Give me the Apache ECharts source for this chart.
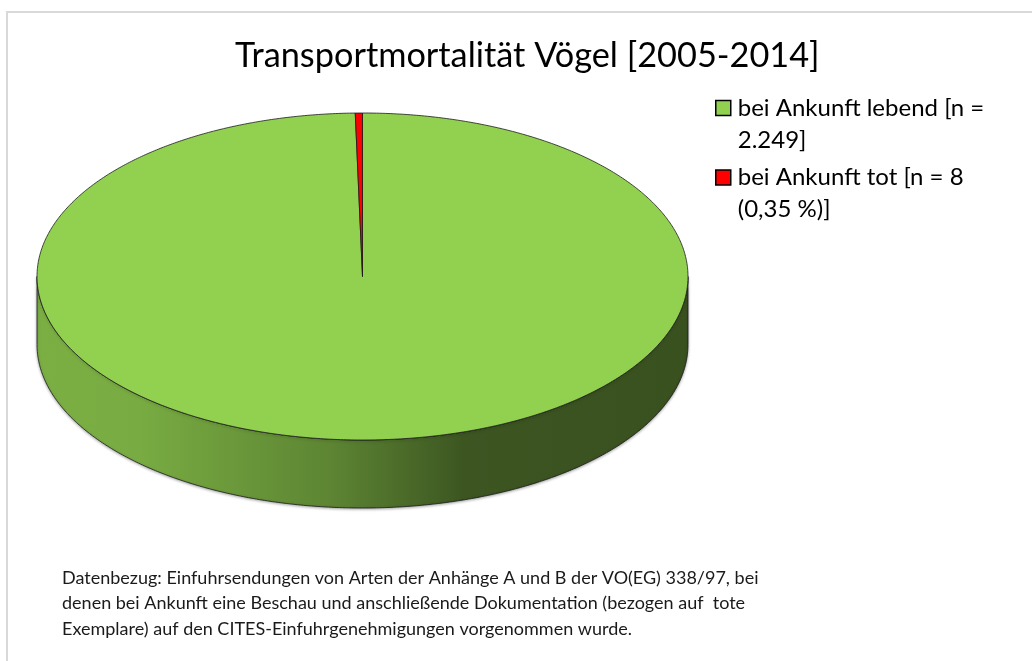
<!DOCTYPE html>
<html>
<head>
<meta charset="utf-8">
<script src="https://cdn.jsdelivr.net/npm/echarts@6/dist/echarts.min.js"></script>
<style>
html, body { margin: 0; padding: 0; background: #fff; }
/* grauer Rahmen oben/links wie im Original */
#frame { position: absolute; left: 6px; top: 11px; right: -4px; bottom: -4px; border-top: 2px solid #d9d9d9; border-left: 2px solid #d9d9d9; }
#chart { position: absolute; left: 0; top: 0; width: 1032px; height: 661px; }
</style>
</head>
<body>
<div id="frame"></div>
<div id="chart"></div>
<script>
// Daten
const categories = ['bei Ankunft lebend [n = 2.249]', 'bei Ankunft tot [n = 8 (0,35 %)]']
const legendLines = [['bei Ankunft lebend [n =', '2.249]'], ['bei Ankunft tot [n = 8', '(0,35 %)]']]
const values = [2249, 8]
const sliceColors = ['#92d050', '#ff0000']
const titleText = 'Transportmortalität Vögel [2005-2014]'
const noteLines = [
  'Datenbezug: Einfuhrsendungen von Arten der Anhänge A und B der VO(EG) 338/97, bei',
  'denen bei Ankunft eine Beschau und anschließende Dokumentation (bezogen auf  tote',
  'Exemplare) auf den CITES-Einfuhrgenehmigungen vorgenommen wurde.'
]

// Geometrie der 3D-Torte (px)
const pie = { cx: 362.5, cy: 276.5, rx: 325.5, ry: 163.5, depth: 68 }
const FONT = 'Lato, sans-serif'
const total = values.reduce((a, b) => a + b, 0)

// Winkel t im Uhrzeigersinn ab 12 Uhr
function pointAt (t, dy) {
  return [pie.cx + pie.rx * Math.sin(t), pie.cy - pie.ry * Math.cos(t) + dy]
}
function arcPoints (a0, a1, dy) {
  const n = Math.max(2, Math.ceil((a1 - a0) / (Math.PI / 360)))
  const pts = []
  for (let i = 0; i <= n; i++) {
    pts.push(pointAt(a0 + (a1 - a0) * i / n, dy))
  }
  return pts
}
function shade (hex, k) {
  const n = parseInt(hex.slice(1), 16)
  const r = Math.round(((n >> 16) & 255) * k)
  const g = Math.round(((n >> 8) & 255) * k)
  const b = Math.round((n & 255) * k)
  return 'rgb(' + r + ',' + g + ',' + b + ')'
}

function renderSlice (idx) {
  return function (params, api) {
    let start = 0
    for (let i = 0; i < idx; i++) start += values[i]
    const a0 = start / total * Math.PI * 2
    const a1 = (start + api.value(0)) / total * Math.PI * 2
    const base = sliceColors[idx]
    const children = []
    // Seitenwand: nur vorderer Teil (90°..270°) ist sichtbar
    const s0 = Math.max(a0, Math.PI / 2)
    const s1 = Math.min(a1, Math.PI * 1.5)
    if (s1 > s0) {
      const top = arcPoints(s0, s1, 0)
      const bottom = arcPoints(s0, s1, pie.depth).reverse()
      children.push({
        type: 'polygon',
        shape: { points: top.concat(bottom) },
        style: {
          fill: {
            type: 'linear',
            x: pie.cx - pie.rx,
            y: 0,
            x2: pie.cx + pie.rx,
            y2: 0,
            global: true,
            colorStops: [
              { offset: 0, color: shade(base, 0.84) },
              { offset: 0.16, color: shade(base, 0.82) },
              { offset: 0.45, color: shade(base, 0.64) },
              { offset: 0.66, color: shade(base, 0.41) },
              { offset: 1, color: shade(base, 0.39) }
            ]
          },
          stroke: '#1a1a1a',
          lineWidth: 0.8,
          shadowColor: 'rgba(0,0,0,0.35)',
          shadowBlur: 3,
          shadowOffsetY: 1
        }
      })
    }
    // Deckfläche
    children.push({
      type: 'polygon',
      shape: { points: [[pie.cx, pie.cy]].concat(arcPoints(a0, a1, 0)) },
      style: { fill: base, stroke: '#1a1a1a', lineWidth: 0.8 }
    })
    return { type: 'group', children: children }
  }
}

const chart = echarts.init(document.getElementById('chart'))

const option = {
  animation: false,
  title: [
    {
      text: titleText,
      left: 235,
      top: 35,
      padding: 0,
      textStyle: { fontFamily: FONT, fontSize: 34.3, lineHeight: 42, fontWeight: 'normal', color: '#000' }
    },
    {
      text: noteLines.join('\n'),
      left: 62,
      top: 565,
      padding: 0,
      textStyle: { fontFamily: FONT, fontSize: 18, lineHeight: 25.7, fontWeight: 'normal', color: '#1a1a1a' }
    }
  ],
  // zwei Legenden; leere erste Zeile, damit das Symbol neben der ersten Textzeile steht
  legend: categories.map((name, i) => ({
    data: [name],
    orient: 'vertical',
    left: 715,
    top: [60, 129.5][i],
    padding: 0,
    icon: 'rect',
    itemWidth: 15,
    itemHeight: 15,
    itemStyle: { borderColor: '#000', borderWidth: 1.5 },
    formatter: () => ' \n' + legendLines[i].join('\n'),
    textStyle: { fontFamily: FONT, fontSize: 24, lineHeight: 32, color: '#000', padding: [0, 0, 0, 2] }
  })),
  series: values.map((v, i) => ({
    type: 'custom',
    name: categories[i],
    coordinateSystem: 'none',
    itemStyle: { color: sliceColors[i] },
    data: [[v]],
    renderItem: renderSlice(i)
  }))
}

chart.setOption(option)
</script>
</body>
</html>
